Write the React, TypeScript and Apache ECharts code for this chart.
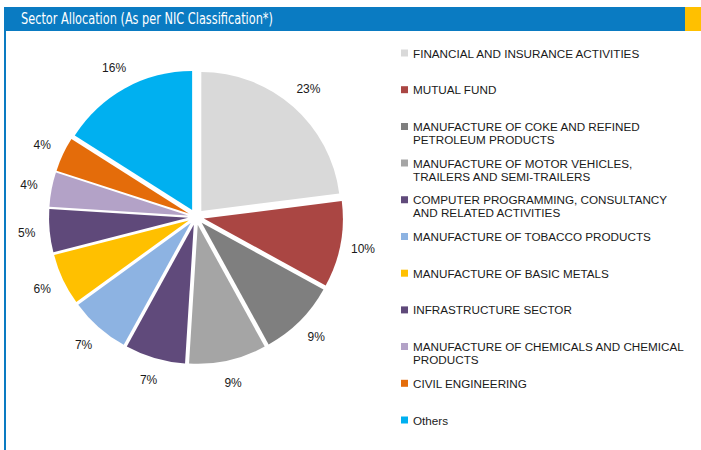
import React, { useEffect, useRef } from "react";
import * as echarts from "echarts";

const title = "Sector Allocation (As per NIC Classification*)";

const categories = [
  "FINANCIAL AND INSURANCE ACTIVITIES",
  "MUTUAL FUND",
  "MANUFACTURE OF COKE AND REFINED PETROLEUM PRODUCTS",
  "MANUFACTURE OF MOTOR VEHICLES, TRAILERS AND SEMI-TRAILERS",
  "COMPUTER PROGRAMMING, CONSULTANCY AND RELATED ACTIVITIES",
  "MANUFACTURE OF TOBACCO PRODUCTS",
  "MANUFACTURE OF BASIC METALS",
  "INFRASTRUCTURE SECTOR",
  "MANUFACTURE OF CHEMICALS AND CHEMICAL PRODUCTS",
  "CIVIL ENGINEERING",
  "Others",
];

const legendLabels = [
  "FINANCIAL AND INSURANCE ACTIVITIES",
  "MUTUAL FUND",
  "MANUFACTURE OF COKE AND REFINED\nPETROLEUM PRODUCTS",
  "MANUFACTURE OF MOTOR VEHICLES,\nTRAILERS AND SEMI-TRAILERS",
  "COMPUTER PROGRAMMING, CONSULTANCY\nAND RELATED ACTIVITIES",
  "MANUFACTURE OF TOBACCO PRODUCTS",
  "MANUFACTURE OF BASIC METALS",
  "INFRASTRUCTURE SECTOR",
  "MANUFACTURE OF CHEMICALS AND CHEMICAL\nPRODUCTS",
  "CIVIL ENGINEERING",
  "Others",
];

const values = [23, 10, 9, 9, 7, 7, 6, 5, 4, 4, 16];

const colors = [
  "#d9d9d9",
  "#aa4643",
  "#7f7f7f",
  "#a5a5a5",
  "#604a7b",
  "#8db3e2",
  "#ffc000",
  "#5f497a",
  "#b3a2c7",
  "#e46c0a",
  "#00b0f0",
];

export default function App() {
  const ref = useRef<HTMLDivElement>(null);

  useEffect(() => {
    document.body.style.margin = "0";
    const chart = echarts.init(ref.current!, null, { renderer: "svg" });
    const fontFamily = "'Liberation Sans', Arial, sans-serif";
    const lineH = 13;
    // two-line items: icon path taller than the square so the square sits on the first line
    const tallIcon = "path://M0,0H7V7H0Z M0,19.9H0.01V20H0Z";
    const legends = categories.map((name, i) => {
      const twoLine = legendLabels[i].includes("\n");
      const iconCenter = 53 + i * 36.7;
      return {
        show: true,
        orient: "vertical",
        left: 401,
        top: iconCenter - 6.5,
        padding: 0,
        itemWidth: 7,
        itemHeight: twoLine ? 20 : 7,
        icon: twoLine ? tallIcon : "rect",
        selectedMode: false,
        formatter: () => legendLabels[i],
        textStyle: {
          fontSize: 11.7,
          lineHeight: lineH,
          color: "#1a1a1a",
          fontFamily,
        },
        data: [{ name }],
      };
    });

    chart.setOption({
      animation: false,
      color: colors,
      graphic: [
        { type: "rect", shape: { x: 4, y: 7, width: 681, height: 24 }, style: { fill: "#0a7bc2" } },
        { type: "rect", shape: { x: 685, y: 7, width: 16, height: 24 }, style: { fill: "#ffc000" } },
        { type: "rect", shape: { x: 4, y: 31, width: 2, height: 419 }, style: { fill: "#0a7bc2" } },
        {
          type: "text",
          x: 21,
          y: 19,
          scaleX: 0.84,
          style: {
            text: title,
            fill: "#ffffff",
            fontSize: 15,
            fontFamily: "'DejaVu Sans Condensed', 'DejaVu Sans', sans-serif",
            verticalAlign: "middle",
          },
        },
      ],
      legend: legends,
      series: [
        {
          type: "pie",
          center: [196, 217],
          radius: 139,
          startAngle: 90,
          clockwise: true,
          selectedMode: "multiple",
          selectedOffset: 8,
          emphasis: { disabled: true },
          itemStyle: { borderWidth: 0 },
          label: { show: false },
          labelLine: { show: false },
          data: categories.map((name, i) => ({
            name,
            value: values[i],
            selected: true,
          })),
        },
        {
          type: "pie",
          center: [196, 217],
          radius: [162, 172],
          startAngle: 90,
          clockwise: true,
          selectedMode: false,
          silent: true,
          emphasis: { disabled: true },
          itemStyle: { color: "rgba(255,255,255,0)", borderWidth: 0 },
          label: {
            show: true,
            position: "inside",
            fontSize: 12,
            color: "#1a1a1a",
            fontFamily,
            formatter: (p: any) => Math.round(p.percent) + "%",
          },
          labelLine: { show: false },
          data: categories.map((name, i) => ({
            name,
            value: values[i],
          })),
        },
      ],
    });
    return () => chart.dispose();
  }, []);

  return <div ref={ref} style={{ width: 701, height: 450 }} />;
}
